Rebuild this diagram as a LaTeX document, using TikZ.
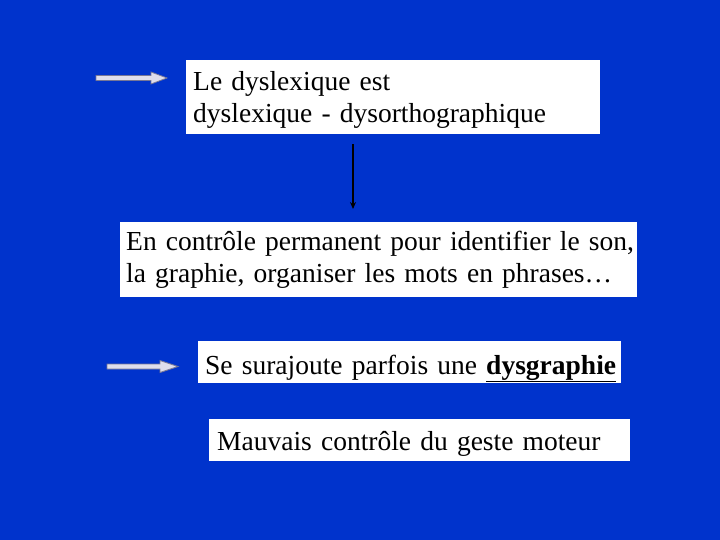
\documentclass[tikz,border=0pt]{standalone}
\usepackage{fontspec}
\usetikzlibrary{arrows.meta}
\setmainfont{Liberation Serif}
\definecolor{bgblue}{RGB}{0,51,204}
\definecolor{arrfill}{RGB}{222,222,236}
\definecolor{arredge}{RGB}{120,120,150}
\begin{document}
\begin{tikzpicture}[x=1pt,y=-1pt,
  box/.style={fill=white, draw=none, anchor=north west, inner xsep=7pt, inner ysep=0pt,
    align=left, font=\fontsize{27.5}{32}\selectfont},
  blockarrow/.style={fill=arrfill, draw=arredge, line width=0.8pt, line join=miter},
  vline/.style={draw=black, line width=1.3pt, -{Stealth[length=7pt,width=6pt]}}]
\fill[bgblue] (0,0) rectangle (720,540);
\useasboundingbox (0,0) rectangle (720,540);
\node[box, minimum width=414pt, minimum height=74pt, text width=400pt, text height=30pt, text depth=44pt] (b1) at (186,60)
  {\mbox{Le dyslexique est}\\\mbox{dyslexique - dysorthographique}};
\node[box, minimum width=517pt, minimum height=75pt, text width=505pt, inner xsep=6pt] (b2) at (120,222)
  {\mbox{En contrôle permanent pour identifier le son,}\\\mbox{la graphie, organiser les mots en phrases…}};
\node[box, minimum width=423pt, minimum height=42pt, text width=409pt, text height=33pt, text depth=9pt] (b3) at (198,341)
  {\mbox{Se surajoute parfois une \underline{\textbf{dysgraphie}}}};
\node[box, minimum width=421pt, minimum height=42pt, text width=405pt, inner xsep=8pt, text height=31pt, text depth=11pt] (b4) at (209,419)
  {\mbox{Mauvais contrôle du geste moteur}};
\draw[vline] ([xshift=167pt,yshift=-10pt]b1.south west) -- ([xshift=233pt,yshift=13pt]b2.north west);
\draw[blockarrow] (96,75.5) -- (151,75.5) -- (151,72) -- (167,78) -- (151,84) -- (151,80.5) -- (96,80.5) -- cycle;
\draw[blockarrow] (107,364) -- (160,364) -- (160,360.5) -- (178,366.5) -- (160,372.5) -- (160,369) -- (107,369) -- cycle;
\end{tikzpicture}
\end{document}
